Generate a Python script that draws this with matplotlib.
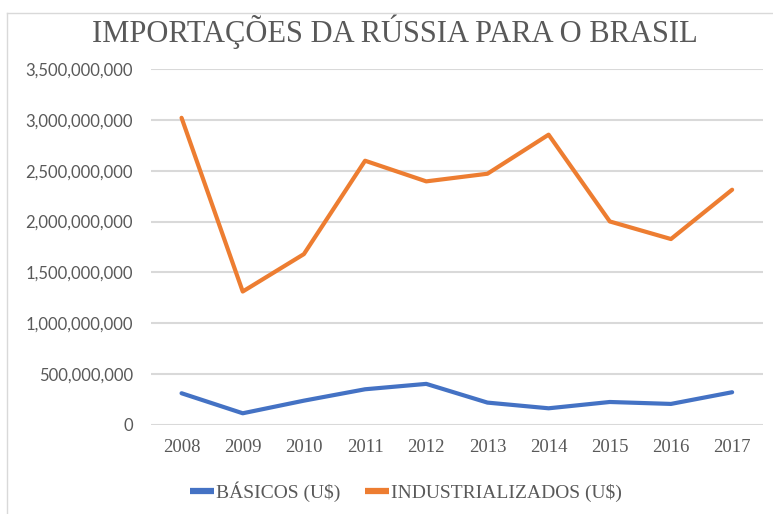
import matplotlib
matplotlib.use("Agg")
from matplotlib import pyplot as plt
from matplotlib.lines import Line2D
from matplotlib.ticker import FuncFormatter

years = ["2008", "2009", "2010", "2011", "2012", "2013", "2014", "2015", "2016", "2017"]
basicos = [312e6, 115e6, 239e6, 351e6, 404e6, 220e6, 164e6, 226e6, 207e6, 322e6]
industrializados = [3020e6, 1312e6, 1680e6, 2598e6, 2395e6, 2470e6, 2854e6, 2001e6, 1828e6, 2313e6]
yticks = [0, 500e6, 1000e6, 1500e6, 2000e6, 2500e6, 3000e6, 3500e6]

gray = "#595959"
blue = "#4472C4"
orange = "#ED7D31"

fig = plt.figure(figsize=(7.73, 5.14), dpi=100)
ax = fig.add_axes([0.1953, 0.1732, 0.7914, 0.6926])

x = range(len(years))
ax.plot(x, basicos, color=blue, lw=3, label="BÁSICOS (U$)", solid_capstyle="round")
ax.plot(x, industrializados, color=orange, lw=3, label="INDUSTRIALIZADOS (U$)", solid_capstyle="round")

ax.set_xlim(-0.5, len(years) - 0.5)
ax.set_ylim(0, 3500e6)
ax.set_yticks(yticks)
ax.yaxis.set_major_formatter(FuncFormatter(lambda v, p: "0" if v == 0 else f"{v:,.0f}"))
ax.set_xticks(list(x))
ax.set_xticklabels(years, family="Liberation Serif", fontsize=13.5, color=gray)
for t in ax.get_yticklabels():
    t.set_family("Lato")
    t.set_fontsize(12)
    t.set_color(gray)
ax.tick_params(length=0, pad=10)
ax.tick_params(axis="y", pad=13)
ax.grid(axis="y", color="#d9d9d9", lw=1.5)
ax.set_axisbelow(True)
for s in ax.spines.values():
    s.set_visible(False)

fig.text(0.511, 0.938, "IMPORTAÇÕES DA RÚSSIA PARA O BRASIL", ha="center", va="center",
         family="Liberation Serif", fontsize=22, color=gray)

# frame of the original chart box (left and top edges)
fig.add_artist(Line2D([7 / 773, 7 / 773], [0, 1 - 13 / 514], transform=fig.transFigure, color="#d9d9d9", lw=1))
fig.add_artist(Line2D([7 / 773, 1], [1 - 13 / 514, 1 - 13 / 514], transform=fig.transFigure, color="#d9d9d9", lw=1))

leg = fig.legend(loc="center", bbox_to_anchor=(0.525, 1 - 492 / 514), ncol=2, frameon=False,
                 prop={"family": "Liberation Serif", "size": 14}, labelcolor=gray,
                 handlelength=1.25, handletextpad=0.1, columnspacing=1.25)
for ln in leg.get_lines():
    ln.set_linewidth(4.5)
    ln.set_solid_capstyle("butt")

fig.savefig("out.png", dpi=100)
